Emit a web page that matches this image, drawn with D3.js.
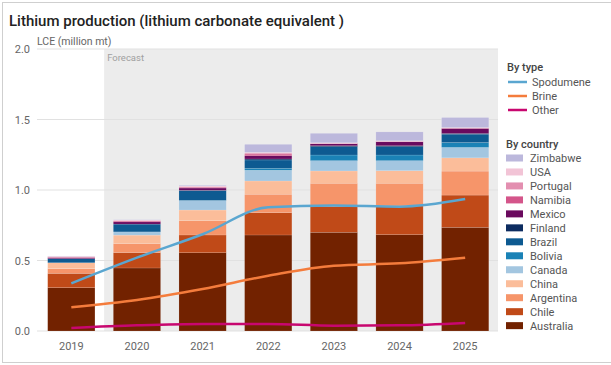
<!DOCTYPE html>
<html>
<head>
<meta charset="utf-8">
<script src="https://cdn.jsdelivr.net/npm/d3@7"></script>
<style>
  body { margin: 0; background: #fff; }
  svg { display: block; font-family: Roboto, "Noto Sans", sans-serif; }
</style>
</head>
<body>
<div id="chart"></div>
<script>
// years on the x axis
const years = ['2019', '2020', '2021', '2022', '2023', '2024', '2025']
const yTicks = [0, 0.5, 1.0, 1.5, 2.0]

// production by country (million mt LCE), stacked bottom -> top
const australia = [0.307, 0.447, 0.555, 0.681, 0.700, 0.683, 0.735]
const chile     = [0.102, 0.109, 0.126, 0.158, 0.182, 0.204, 0.229]
const argentina = [0.033, 0.064, 0.101, 0.131, 0.166, 0.161, 0.170]
const china     = [0.042, 0.060, 0.076, 0.094, 0.087, 0.089, 0.094]
const canada    = [0.000, 0.023, 0.066, 0.076, 0.073, 0.071, 0.074]
const bolivia   = [0.000, 0.000, 0.003, 0.014, 0.040, 0.040, 0.035]
const brazil    = [0.029, 0.055, 0.068, 0.059, 0.059, 0.059, 0.059]
const finland   = [0.000, 0.000, 0.003, 0.007, 0.007, 0.007, 0.005]
const mexico    = [0.007, 0.016, 0.016, 0.023, 0.014, 0.028, 0.035]
const namibia   = [0.004, 0.006, 0.006, 0.012, 0.003, 0.002, 0.003]
const portugal  = [0.003, 0.004, 0.004, 0.007, 0.002, 0.002, 0.002]
const usa       = [0.003, 0.003, 0.004, 0.005, 0.002, 0.003, 0.002]
const zimbabwe  = [0.002, 0.002, 0.005, 0.057, 0.067, 0.063, 0.071]

// production by type
const spodumene = [0.338, 0.520, 0.686, 0.877, 0.890, 0.882, 0.936]
const brine     = [0.168, 0.220, 0.298, 0.392, 0.463, 0.480, 0.520]
const other     = [0.021, 0.040, 0.050, 0.050, 0.038, 0.040, 0.057]

const countries = [
    { name: 'Australia', values: australia, color: '#722200' },
    { name: 'Chile', values: chile, color: '#c04a18' },
    { name: 'Argentina', values: argentina, color: '#f6956a' },
    { name: 'China', values: china, color: '#fbbd9a' },
    { name: 'Canada', values: canada, color: '#a3c6e0' },
    { name: 'Bolivia', values: bolivia, color: '#1a82b6' },
    { name: 'Brazil', values: brazil, color: '#0d5a91' },
    { name: 'Finland', values: finland, color: '#0d2c60' },
    { name: 'Mexico', values: mexico, color: '#6a0a5e' },
    { name: 'Namibia', values: namibia, color: '#d4558a' },
    { name: 'Portugal', values: portugal, color: '#e38fb0' },
    { name: 'USA', values: usa, color: '#f2c4d6' },
    { name: 'Zimbabwe', values: zimbabwe, color: '#bcb8dc' }
]

const types = [
    { name: 'Spodumene', values: spodumene, color: '#5aa6d0' },
    { name: 'Brine', values: brine, color: '#f47c3c' },
    { name: 'Other', values: other, color: '#c8076f' }
]

const width = 611
const height = 365

const svg = d3.select('#chart').append('svg')
    .attr('width', width)
    .attr('height', height)

// outer frame
svg.append('rect')
    .attr('x', 2.5)
    .attr('y', 2.5)
    .attr('width', 620)
    .attr('height', 360)
    .attr('fill', 'none')
    .attr('stroke', '#cfcfcf')

const x = d3.scaleBand()
    .domain(years)
    .range([38.5, 498])
    .paddingInner(0.28)
    .paddingOuter(0.14)

const y = d3.scaleLinear()
    .domain([0, 2])
    .range([331, 49])

// forecast shading
const gap = (x.step() - x.bandwidth()) / 2
svg.append('rect')
    .attr('x', x('2020') - gap)
    .attr('y', y(2))
    .attr('width', x.range()[1] - (x('2020') - gap))
    .attr('height', y(0) - y(2))
    .attr('fill', '#ececec')

svg.append('text')
    .attr('x', x('2020') - gap + 3)
    .attr('y', y(2) + 12)
    .attr('font-size', 9.5)
    .attr('fill', '#a0a0a0')
    .text('Forecast')

// gridlines + y labels
svg.append('g')
    .selectAll('line')
    .data(yTicks)
    .enter()
    .append('line')
    .attr('x1', 37)
    .attr('x2', x.range()[1])
    .attr('y1', d => y(d))
    .attr('y2', d => y(d))
    .attr('stroke', '#e1e1e1')
    .attr('stroke-width', 1)

svg.append('g')
    .selectAll('text')
    .data(yTicks)
    .enter()
    .append('text')
    .attr('x', 30)
    .attr('y', d => y(d) + 4)
    .attr('text-anchor', 'end')
    .attr('font-size', 11)
    .attr('fill', '#666')
    .text(d => d3.format('.1f')(d))

// x labels
svg.append('g')
    .selectAll('text')
    .data(years)
    .enter()
    .append('text')
    .attr('x', d => x(d) + x.bandwidth() / 2)
    .attr('y', 350)
    .attr('text-anchor', 'middle')
    .attr('font-size', 11)
    .attr('fill', '#666')
    .text(d => d)

// stacked bars
const rows = years.map((yr, i) => {
    const row = { year: yr }
    countries.forEach(c => { row[c.name] = c.values[i] })
    return row
})
const stack = d3.stack().keys(countries.map(c => c.name))
const layers = stack(rows)

svg.append('g')
    .selectAll('g')
    .data(layers)
    .enter()
    .append('g')
    .attr('fill', (d, i) => countries[i].color)
    .selectAll('rect')
    .data(d => d)
    .enter()
    .append('rect')
    .attr('x', d => x(d.data.year))
    .attr('width', x.bandwidth())
    .attr('y', d => y(d[1]))
    .attr('height', d => y(d[0]) - y(d[1]))
    .attr('stroke', 'rgba(255,255,255,0.25)')
    .attr('stroke-width', 0.5)

// type lines
const line = d3.line()
    .x((d, i) => x(years[i]) + x.bandwidth() / 2)
    .y(d => y(d))
    .curve(d3.curveMonotoneX)

svg.append('g')
    .selectAll('path')
    .data(types)
    .enter()
    .append('path')
    .attr('d', d => line(d.values))
    .attr('fill', 'none')
    .attr('stroke', d => d.color)
    .attr('stroke-width', 2.5)

// titles
svg.append('text')
    .attr('x', 9)
    .attr('y', 26)
    .attr('font-size', 15)
    .attr('font-weight', 500)
    .attr('fill', '#222')
    .text('Lithium production (lithium carbonate equivalent )')

svg.append('text')
    .attr('x', 37)
    .attr('y', 45)
    .attr('font-size', 10.5)
    .attr('fill', '#666')
    .text('LCE (million mt)')

// legend
const legend = svg.append('g')
legend.append('text')
    .attr('x', 507)
    .attr('y', 71)
    .attr('font-size', 11)
    .attr('font-weight', 500)
    .attr('fill', '#444')
    .text('By type')

const typeRow = legend.selectAll('g.type')
    .data(types)
    .enter()
    .append('g')
    .attr('class', 'type')
    .attr('transform', (d, i) => `translate(508, ${82 + i * 14})`)
typeRow.append('line')
    .attr('x1', 0)
    .attr('x2', 19)
    .attr('stroke', d => d.color)
    .attr('stroke-width', 2.5)
typeRow.append('text')
    .attr('x', 24)
    .attr('y', 4)
    .attr('font-size', 11)
    .attr('fill', '#555')
    .text(d => d.name)

legend.append('text')
    .attr('x', 506)
    .attr('y', 148)
    .attr('font-size', 11)
    .attr('font-weight', 500)
    .attr('fill', '#444')
    .text('By country')

const countryRow = legend.selectAll('g.country')
    .data(countries.slice().reverse())
    .enter()
    .append('g')
    .attr('class', 'country')
    .attr('transform', (d, i) => `translate(506, ${158 + i * 13.97})`)
countryRow.append('rect')
    .attr('x', 0)
    .attr('y', -3.5)
    .attr('width', 17)
    .attr('height', 7)
    .attr('fill', d => d.color)
countryRow.append('text')
    .attr('x', 24)
    .attr('y', 4)
    .attr('font-size', 11)
    .attr('fill', '#555')
    .text(d => d.name)
</script>
</body>
</html>
